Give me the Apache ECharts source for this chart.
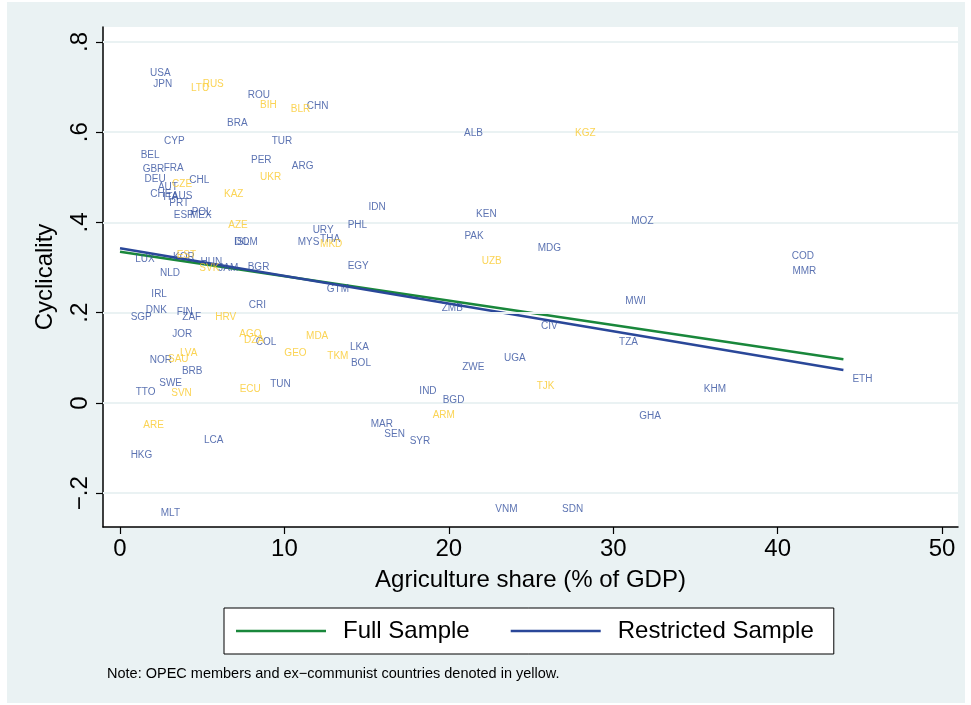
<!DOCTYPE html>
<html>
<head>
<meta charset="utf-8">
<script src="https://cdn.jsdelivr.net/npm/echarts@6/dist/echarts.min.js"></script>
<style>
  html, body { margin: 0; padding: 0; background: #ffffff; }
  #chart { width: 971px; height: 705px; }
</style>
</head>
<body>
<div id="chart"></div>
<script>
// Country codes with agriculture share of GDP (%) and cyclicality
const countryCodes = [
  'USA','JPN','LTU','RUS','ROU','BIH','BLR','CHN','BRA','ALB','KGZ','CYP','TUR','BEL','PER','ARG',
  'GBR','FRA','DEU','UKR','AUT','CZE','CHL','CHE','ITA','AUS','KAZ','PRT','POL','ESP','MEX','IDN',
  'KEN','MOZ','AZE','URY','PHL','ISL','DOM','MYS','THA','MKD','PAK','MDG','LUX','KOR','EST','HUN',
  'SVK','JAM','BGR','UZB','EGY','COD','NLD','MMR','GTM','IRL','MWI','ZMB','CRI','DNK','FIN','SGP',
  'ZAF','HRV','CIV','JOR','AGO','MDA','DZA','COL','TZA','LKA','LVA','GEO','TKM','NOR','SAU','BOL',
  'UGA','BRB','ZWE','SWE','TUN','TTO','SVN','ECU','TJK','KHM','ETH','IND','BGD','ARM','GHA','ARE',
  'MAR','LCA','SEN','SYR','HKG','MLT','VNM','SDN'
];
const agriShare = [
  1.28, 1.48, 3.77, 4.48, 7.22, 7.97, 9.84, 10.81, 5.96, 20.38, 27.13, 2.13, 8.68, 0.71, 7.42, 9.90,
  0.83, 2.11, 0.95, 7.97, 1.76, 2.62, 3.67, 1.30, 2.09, 2.60, 5.78, 2.45, 3.81, 2.72, 3.71, 14.56,
  21.11, 30.55, 6.04, 11.17, 13.30, 6.39, 6.42, 10.26, 11.62, 11.62, 20.40, 24.86, 0.38, 2.68, 2.90, 4.35,
  4.28, 5.43, 7.22, 21.45, 13.30, 40.31, 1.89, 40.35, 12.03, 1.36, 30.19, 19.02, 7.28, 1.02, 2.90, 0.10,
  3.24, 5.25, 25.06, 2.63, 6.71, 10.77, 7.00, 7.71, 29.81, 13.44, 3.10, 9.45, 12.06, 1.26, 2.37, 13.50,
  22.81, 3.22, 20.27, 1.84, 8.59, 0.41, 2.57, 6.73, 24.80, 34.96, 44.00, 17.66, 19.08, 18.47, 31.04, 0.87,
  14.70, 4.56, 15.53, 17.07, 0.10, 1.93, 22.28, 26.34
];
const cyclicality = [
  0.731, 0.706, 0.697, 0.706, 0.682, 0.660, 0.651, 0.658, 0.620, 0.598, 0.598, 0.580, 0.580, 0.550, 0.538, 0.525,
  0.518, 0.521, 0.496, 0.501, 0.479, 0.484, 0.494, 0.462, 0.457, 0.459, 0.462, 0.443, 0.423, 0.415, 0.415, 0.434,
  0.418, 0.403, 0.394, 0.383, 0.393, 0.357, 0.356, 0.357, 0.363, 0.351, 0.369, 0.342, 0.319, 0.324, 0.328, 0.312,
  0.298, 0.299, 0.300, 0.315, 0.302, 0.325, 0.287, 0.291, 0.253, 0.240, 0.225, 0.210, 0.216, 0.205, 0.202, 0.189,
  0.190, 0.191, 0.169, 0.152, 0.152, 0.149, 0.140, 0.134, 0.134, 0.123, 0.110, 0.110, 0.103, 0.095, 0.097, 0.089,
  0.099, 0.070, 0.079, 0.044, 0.041, 0.024, 0.021, 0.030, 0.037, 0.030, 0.053, 0.026, 0.006, -0.027, -0.030, -0.049,
  -0.047, -0.083, -0.069, -0.085, -0.116, -0.244, -0.236, -0.236
];
// OPEC members and ex-communist countries (drawn in yellow)
const yellowCodes = [
  'LTU','RUS','BIH','BLR','KGZ','UKR','CZE','KAZ','AZE','MKD','EST','SVK','UZB','HRV','AGO','MDA',
  'DZA','LVA','GEO','TKM','SAU','SVN','ECU','TJK','ARM','ARE'
];

// Fitted regression lines (endpoints over the observed range)
const fitX = [0, 44];
const fullSampleFit = [0.335, 0.097];
const restrictedSampleFit = [0.343, 0.073];

// Axis ticks
const xTicks = [0, 10, 20, 30, 40, 50];
const yTicks = [-0.2, 0, 0.2, 0.4, 0.6, 0.8];
const yTickLabels = ['\u2212.2', '0', '.2', '.4', '.6', '.8'];

const BLUE_LABEL = '#33509F';
const YELLOW_LABEL = '#FAC92A';
const BLUE_LINE = '#2A4799';
const GREEN_LINE = '#19873B';
const GRID_COLOR = '#EAF2F3';
const FONT = '"Liberation Sans", Arial, Helvetica, sans-serif';

const yellowSet = new Set(yellowCodes);
const bluePoints = [];
const yellowPoints = [];
countryCodes.forEach((code, i) => {
  const item = { value: [agriShare[i], cyclicality[i]], name: code };
  (yellowSet.has(code) ? yellowPoints : bluePoints).push(item);
});

// Markers are hidden; only the country code sits to the right of each point
function labelSeries(name, data, color) {
  return {
    name: name,
    type: 'scatter',
    data: data,
    symbol: 'circle',
    symbolSize: 1,
    itemStyle: { color: 'rgba(0,0,0,0)' },
    z: 5,
    silent: true,
    label: {
      show: true,
      position: 'right',
      distance: 8.5,
      offset: [0, 1],
      formatter: p => p.name,
      color: color,
      fontSize: 10,
      fontFamily: FONT
    },
    labelLayout: { hideOverlap: false }
  };
}

const chart = echarts.init(document.getElementById('chart'), null, { renderer: 'canvas' });

chart.setOption({
  backgroundColor: '#ffffff',
  animation: false,
  graphic: [
    {
      type: 'rect', z: -10,
      shape: { x: 7, y: 2, width: 958, height: 701 },
      style: { fill: GRID_COLOR }
    },
    {
      type: 'text', z: 10,
      left: 107, top: 666,
      style: {
        text: 'Note: OPEC members and ex\u2212communist countries denoted in yellow.',
        fill: '#000000',
        fontSize: 14.5,
        fontFamily: FONT
      }
    }
  ],
  grid: {
    left: 103, right: 13, top: 27, bottom: 178,
    show: true, backgroundColor: '#ffffff', borderWidth: 0
  },
  xAxis: {
    type: 'value',
    min: -1.034, max: 50.97,
    name: 'Agriculture share (% of GDP)',
    nameLocation: 'middle',
    nameGap: 41,
    nameTextStyle: { fontSize: 24, color: '#000', fontFamily: FONT },
    axisLine: { show: true, onZero: false, lineStyle: { color: '#000', width: 1.5 } },
    axisTick: { show: true, length: 7, customValues: xTicks, lineStyle: { color: '#000', width: 1.2 } },
    axisLabel: { customValues: xTicks, fontSize: 24, color: '#000', margin: 10, fontFamily: FONT },
    splitLine: { show: false }
  },
  yAxis: {
    type: 'value',
    min: -0.2748, max: 0.8332,
    name: 'Cyclicality',
    nameLocation: 'middle',
    nameRotate: 90,
    nameGap: 46,
    nameTextStyle: { fontSize: 24, color: '#000', fontFamily: FONT },
    axisLine: { show: true, onZero: false, lineStyle: { color: '#000', width: 1.5 } },
    axisTick: { show: true, length: 7, customValues: yTicks, lineStyle: { color: '#000', width: 1.2 } },
    axisLabel: {
      customValues: yTicks,
      rotate: 90,
      fontSize: 24,
      color: '#000',
      margin: 11,
      fontFamily: FONT,
      formatter: v => {
        const idx = yTicks.findIndex(t => Math.abs(t - v) < 1e-9);
        return idx >= 0 ? yTickLabels[idx] : '';
      }
    },
    splitLine: { show: false }
  },
  legend: {
    data: ['Full Sample', 'Restricted Sample'],
    left: 224, top: 608,
    orient: 'horizontal',
    icon: 'rect',
    backgroundColor: '#ffffff',
    borderColor: '#000000',
    borderWidth: 1,
    borderRadius: 0,
    padding: [11, 20, 11, 12],
    itemGap: 41,
    itemWidth: 90,
    itemHeight: 2.5,
    textStyle: { fontSize: 24, color: '#000', fontFamily: FONT, padding: [0, 0, 0, 12] }
  },
  series: [
    {
      name: 'gridlines',
      type: 'line',
      data: [],
      z: 1,
      silent: true,
      markLine: {
        silent: true,
        symbol: 'none',
        label: { show: false },
        lineStyle: { color: GRID_COLOR, width: 2, type: 'solid' },
        data: yTicks.map(v => ({ yAxis: v }))
      }
    },
    {
      name: 'Full Sample',
      type: 'line',
      data: fitX.map((x, i) => [x, fullSampleFit[i]]),
      symbol: 'none',
      z: 3,
      lineStyle: { color: GREEN_LINE, width: 2.5 },
      itemStyle: { color: GREEN_LINE }
    },
    {
      name: 'Restricted Sample',
      type: 'line',
      data: fitX.map((x, i) => [x, restrictedSampleFit[i]]),
      symbol: 'none',
      z: 3,
      lineStyle: { color: BLUE_LINE, width: 2.5 },
      itemStyle: { color: BLUE_LINE }
    },
    labelSeries('blue countries', bluePoints, BLUE_LABEL),
    labelSeries('yellow countries', yellowPoints, YELLOW_LABEL)
  ]
});
</script>
</body>
</html>
